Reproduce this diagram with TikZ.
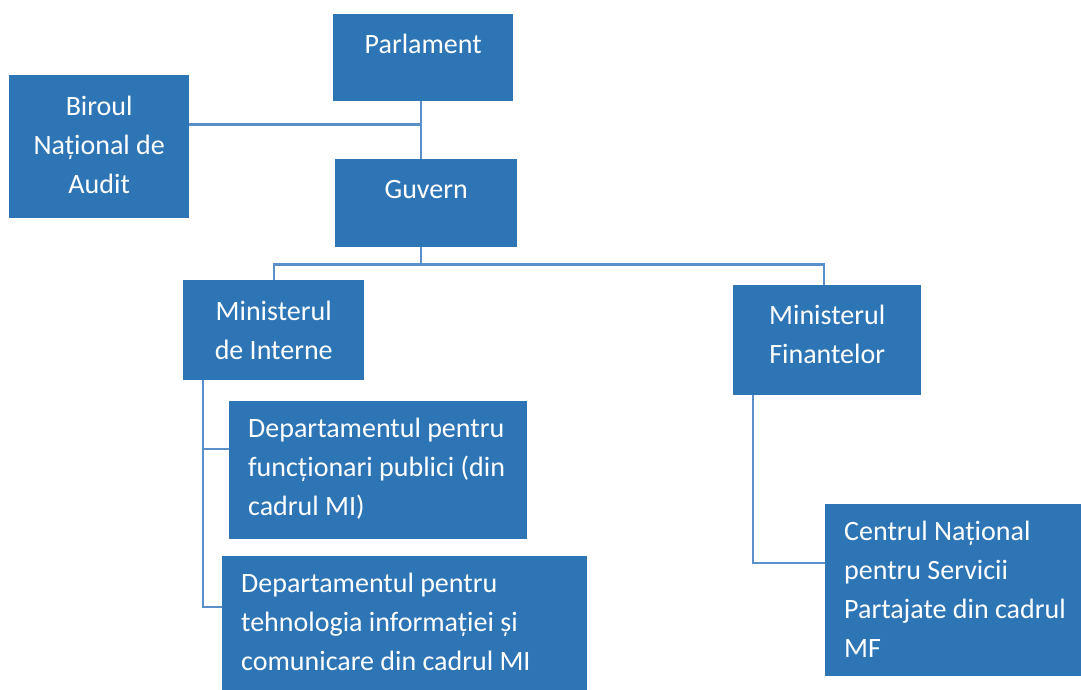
\documentclass[tikz,border=0pt]{standalone}
\usepackage{fontspec}
\setmainfont{Carlito}
\usetikzlibrary{calc}

\definecolor{boxblue}{RGB}{46,117,182}
\definecolor{lineblue}{RGB}{91,143,201}

\begin{document}
\begin{tikzpicture}[x=1pt,y=-1pt,
	box/.style={fill=boxblue,text=white,anchor=north west,inner ysep=0pt,
		font=\fontsize{28}{39}\selectfont},
	mid/.style={box,align=flush center,inner xsep=5pt},
	lft/.style={box,align=flush left,inner xsep=19pt},
	link/.style={draw=lineblue,line width=2.4pt}]
	\useasboundingbox (0,0) rectangle (1081,689);
	\clip (0,0) rectangle (1081,689);
		\node[mid,text width=170pt,text height=39pt,text depth=48pt] (parl) at (333,14) {Parlament};
		\node[mid,text width=170pt,text height=40pt,text depth=103pt] (bna) at (9,75) {Biroul\\Național de\\Audit};
		\node[mid,text width=172pt,text height=39pt,text depth=49pt] (guv) at (335,159) {Guvern};
		\node[mid,text width=171pt,text height=40pt,text depth=60pt] (mi) at (183,280) {Ministerul\\de Interne};
		\node[mid,text width=178pt,text height=39pt,text depth=71pt] (mf) at (733,285) {Ministerul\\Finantelor};
		\node[lft,text width=260pt,text height=36pt,text depth=102pt] (dfp) at (229,401)
			{Departamentul pentru\\funcționari publici (din\\cadrul MI)};
		\node[lft,text width=327pt,text height=36pt,text depth=140pt] (dti) at (222,556)
			{Departamentul pentru\\tehnologia informației și\\comunicare din cadrul MI};
		\node[lft,text width=250pt,text height=36pt,text depth=136pt] (cns) at (825,504)
			{Centrul Național\\pentru Servicii\\Partajate din cadrul\\MF};

		\coordinate (jparl) at ($(parl.south)+(-2,23)$);
		\coordinate (jguv) at ($(parl.south)+(-2,163)$);
		\draw[link] ($(parl.south)+(-2,0)$) -- (jparl |- guv.north);
		\draw[link] (bna.east |- jparl) -- (jparl);
		\draw[link] (jparl |- guv.south) -- (jguv);
		\draw[link] (mi.north) |- (jguv) -| ($(mf.north)+(-3,0)$);
		\draw[link] ($(mi.south west)+(20,0)$) |- ([yshift=-48pt]dfp.north west);
		\draw[link] ($(mi.south west)+(20,0)$) |- ([yshift=-51pt]dti.north west);
		\draw[link] ($(mf.south west)+(20,0)$) |- ([yshift=-59pt]cns.north west);
\end{tikzpicture}
\end{document}
